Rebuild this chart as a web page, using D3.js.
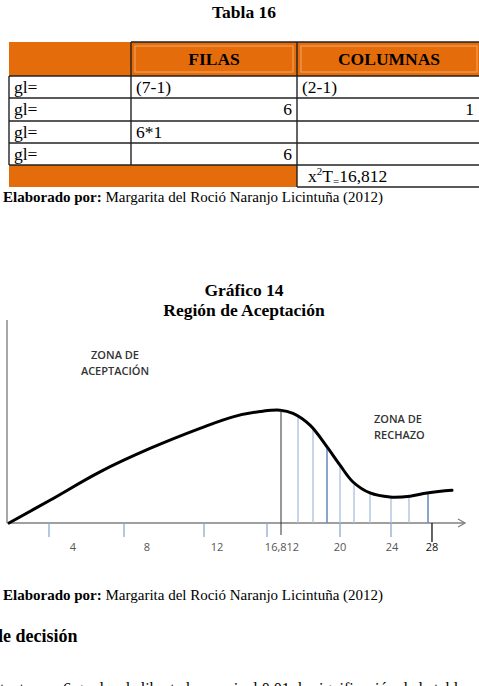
<!DOCTYPE html>
<html>
<head>
<meta charset="utf-8">
<script src="https://cdn.jsdelivr.net/npm/d3@7"></script>
<style>
  html, body { margin: 0; padding: 0; background: #fff; overflow: hidden; }
  svg { display: block; }
</style>
</head>
<body>
<svg id="page" width="479" height="686"></svg>
<script>
// ---- Table data ----
const tableTitle = "Tabla 16";
const tableHeader = ["", "FILAS", "COLUMNAS"];
const tableRows = [
  ["gl=", "(7-1)", "(2-1)"],
  ["gl=", "6", "1"],
  ["gl=", "6*1", ""],
  ["gl=", "6", ""]
];
const rowAlign = [
  ["start", "start", "start"],
  ["start", "end", "end"],
  ["start", "start", "start"],
  ["start", "end", "start"]
];
const chiValue = "16,812";
const sourceText = "Margarita del Roció Naranjo Licintuña (2012)";

// ---- Chart data (horizontal position 0-100 along the axis, height 0-100) ----
const chartTitle = ["Gráfico 14", "Región de Aceptación"];
const curveX = [0, 8.99, 19.96, 30.92, 41.89, 49.12, 55.7, 59.43, 62.28, 66.01, 69.74, 72.59, 75.44, 79.17, 83.55, 87.94, 91.67, 97.15];
const curveY = [0, 11.2, 25.2, 36.7, 46.6, 52.3, 55.1, 55.6, 54.0, 48.2, 37.5, 28.5, 20.2, 14.8, 12.8, 13.2, 14.8, 16.1];
const criticalX = 59.65;
const rejectLinesX = [63.38, 66.67, 69.74, 72.59, 75.66, 79.17, 83.77, 87.72, 91.89];
const rejectLinesBold = [false, false, true, false, false, false, false, false, true];
const blueTicksX = [8.77, 25.22, 42.76, 56.58, 72.59, 83.77];
const endTickX = 92.76;
const tickLabels = ["4", "8", "12", "16,812", "20", "24", "28"];
const tickLabelX = [14.0, 30.26, 45.61, 59.87, 72.59, 83.99, 92.76];

const svg = d3.select("#page");
const serif = "'Liberation Serif', 'Times New Roman', serif";
const sans = "'Open Sans', 'DejaVu Sans', sans-serif";
const orange = "#e46c0a";

// ---- Table ----
svg.append("text")
  .attr("x", 244).attr("y", 18)
  .attr("text-anchor", "middle")
  .style("font-family", serif).style("font-weight", "bold").style("font-size", "17.5px")
  .text(tableTitle);

const colX = [9, 131, 297, 481];
const rowY = [42, 76, 98, 121, 143, 165, 187];
const t = svg.append("g");

// header band
t.append("rect").attr("x", colX[0]).attr("y", rowY[0])
  .attr("width", colX[3] - colX[0]).attr("height", rowY[1] - rowY[0]).attr("fill", orange);
// bottom orange cells
t.append("rect").attr("x", colX[0]).attr("y", rowY[5])
  .attr("width", colX[2] - colX[0]).attr("height", rowY[6] - rowY[5]).attr("fill", orange);

// inner light frames in header cells
[1, 2].forEach((c) => {
  t.append("rect")
    .attr("x", colX[c] + 4).attr("y", rowY[0] + 4)
    .attr("width", colX[c + 1] - colX[c] - 8).attr("height", rowY[1] - rowY[0] - 8)
    .attr("fill", "none").attr("stroke", "#f3a766").attr("stroke-width", 1);
});

const line = (x1, y1, x2, y2) =>
  t.append("line").attr("x1", x1).attr("y1", y1).attr("x2", x2).attr("y2", y2)
    .attr("stroke", "#222").attr("stroke-width", 1.4);

// header borders
line(colX[1], rowY[0], colX[3], rowY[0]);
line(colX[1], rowY[0], colX[1], rowY[1]);
line(colX[2], rowY[0], colX[2], rowY[1]);
// body rows
for (let r = 1; r <= 5; r++) line(colX[0], rowY[r], colX[3], rowY[r]);
line(colX[0], rowY[1], colX[0], rowY[5]);
line(colX[1], rowY[1], colX[1], rowY[5]);
line(colX[2], rowY[1], colX[2], rowY[6]);
line(colX[2], rowY[6], colX[3], rowY[6]);

tableHeader.forEach((h, c) => {
  if (!h) return;
  t.append("text")
    .attr("x", (colX[c] + Math.min(colX[c + 1], 479)) / 2 + (c === 2 ? 1 : 0))
    .attr("y", 65)
    .attr("text-anchor", "middle")
    .style("font-family", serif).style("font-weight", "bold").style("font-size", "17.5px")
    .text(h);
});

tableRows.forEach((row, r) => {
  row.forEach((v, c) => {
    if (!v) return;
    const a = rowAlign[r][c];
    const right = Math.min(colX[c + 1], 479);
    t.append("text")
      .attr("x", a === "end" ? right - 5 : colX[c] + 5)
      .attr("y", rowY[r + 1] + 17)
      .attr("text-anchor", a)
      .style("font-family", serif).style("font-size", "17.5px")
      .text(v);
  });
});

// x²T=16,812
const chi = t.append("text")
  .attr("x", colX[2] + 11).attr("y", rowY[5] + 17)
  .style("font-family", serif).style("font-size", "17.5px");
chi.append("tspan").text("x");
chi.append("tspan").attr("dy", -7).style("font-size", "11px").text("2");
chi.append("tspan").attr("dy", 7).text("T");
chi.append("tspan").attr("dy", 3).style("font-size", "11px").text("=");
chi.append("tspan").attr("dy", -3).text(chiValue);

function source(y) {
  const s = svg.append("text").attr("x", 3).attr("y", y)
    .style("font-family", serif).style("font-size", "15px");
  s.append("tspan").style("font-weight", "bold").text("Elaborado por: ");
  s.append("tspan").text(sourceText);
}
source(202);

// ---- Chart ----
svg.append("text").attr("x", 244).attr("y", 296)
  .attr("text-anchor", "middle")
  .style("font-family", serif).style("font-weight", "bold").style("font-size", "17.5px")
  .text(chartTitle[0]);
svg.append("text").attr("x", 244).attr("y", 316)
  .attr("text-anchor", "middle")
  .style("font-family", serif).style("font-weight", "bold").style("font-size", "17.5px")
  .text(chartTitle[1]);

const xScale = d3.scaleLinear().domain([0, 100]).range([9, 465]);
const yScale = d3.scaleLinear().domain([0, 100]).range([523, 320]);
const g = svg.append("g");

// left axis line
g.append("line")
  .attr("x1", 7).attr("x2", 7).attr("y1", yScale(100)).attr("y2", yScale(0))
  .attr("stroke", "#8a8a8a").attr("stroke-width", 1.5);

// x axis with arrow
g.append("line")
  .attr("x1", xScale(0)).attr("x2", xScale(100)).attr("y1", yScale(0)).attr("y2", yScale(0))
  .attr("stroke", "#7f7f7f").attr("stroke-width", 1.3);
g.append("path")
  .attr("d", `M${xScale(100) - 7},${yScale(0) - 4} L${xScale(100)},${yScale(0)} L${xScale(100) - 7},${yScale(0) + 4}`)
  .attr("fill", "none").attr("stroke", "#7f7f7f").attr("stroke-width", 1.3);

// curve
const pts = curveX.map((x, i) => [x, curveY[i]]);
const curvePath = g.append("path")
  .datum(pts)
  .attr("d", d3.line().x((d) => xScale(d[0])).y((d) => yScale(d[1])).curve(d3.curveCatmullRom.alpha(0.5)))
  .attr("fill", "none").attr("stroke", "#000").attr("stroke-width", 3)
  .attr("stroke-linecap", "round");

function curveTop(px) {
  const node = curvePath.node();
  let lo = 0, hi = node.getTotalLength();
  for (let i = 0; i < 30; i++) {
    const mid = (lo + hi) / 2;
    if (node.getPointAtLength(mid).x < px) lo = mid; else hi = mid;
  }
  return node.getPointAtLength(lo).y;
}

// rejection-zone verticals
rejectLinesX.forEach((x, i) => {
  g.insert("line", "path")
    .attr("x1", xScale(x)).attr("x2", xScale(x))
    .attr("y1", curveTop(xScale(x))).attr("y2", yScale(0))
    .attr("stroke", rejectLinesBold[i] ? "#6f8fbf" : "#a9bfdc")
    .attr("stroke-width", rejectLinesBold[i] ? 1.6 : 1.3);
});

// critical value line
g.append("line")
  .attr("x1", xScale(criticalX)).attr("x2", xScale(criticalX))
  .attr("y1", curveTop(xScale(criticalX))).attr("y2", yScale(0) + 12)
  .attr("stroke", "#333").attr("stroke-width", 1);

// ticks under the axis
blueTicksX.forEach((x) => {
  g.append("line")
    .attr("x1", xScale(x)).attr("x2", xScale(x))
    .attr("y1", yScale(0)).attr("y2", yScale(0) + 14)
    .attr("stroke", "#8eaad0").attr("stroke-width", 1.3);
});
g.append("line")
  .attr("x1", xScale(endTickX)).attr("x2", xScale(endTickX))
  .attr("y1", yScale(0)).attr("y2", yScale(0) + 19)
  .attr("stroke", "#111").attr("stroke-width", 1.3);

tickLabels.forEach((lab, i) => {
  g.append("text")
    .attr("x", xScale(tickLabelX[i])).attr("y", 551)
    .attr("text-anchor", "middle")
    .style("font-family", sans).style("font-size", "11px")
    .style("fill", i === tickLabels.length - 1 ? "#111" : "#555")
    .text(lab);
});

// zone labels
const zoneStyle = (sel) => sel.style("font-family", sans).style("font-weight", "600")
  .style("font-size", "11px").style("fill", "#333");
zoneStyle(g.append("text").attr("x", 115).attr("y", 359).attr("text-anchor", "middle").text("ZONA DE"));
zoneStyle(g.append("text").attr("x", 115).attr("y", 375).attr("text-anchor", "middle").text("ACEPTACIÓN"));
zoneStyle(g.append("text").attr("x", 374).attr("y", 423).text("ZONA DE"));
zoneStyle(g.append("text").attr("x", 374).attr("y", 439).text("RECHAZO"));

source(600);

// following page text
svg.append("text").attr("x", -7).attr("y", 642)
  .style("font-family", serif).style("font-weight", "bold").style("font-size", "18px")
  .text("de decisión");
svg.append("text").attr("x", 0).attr("y", 694)
  .style("font-family", serif).style("font-size", "16px")
  .text("tanto con 6 grados de libertad y un nivel 0,01 de significación de la tabla");
</script>
</body>
</html>
